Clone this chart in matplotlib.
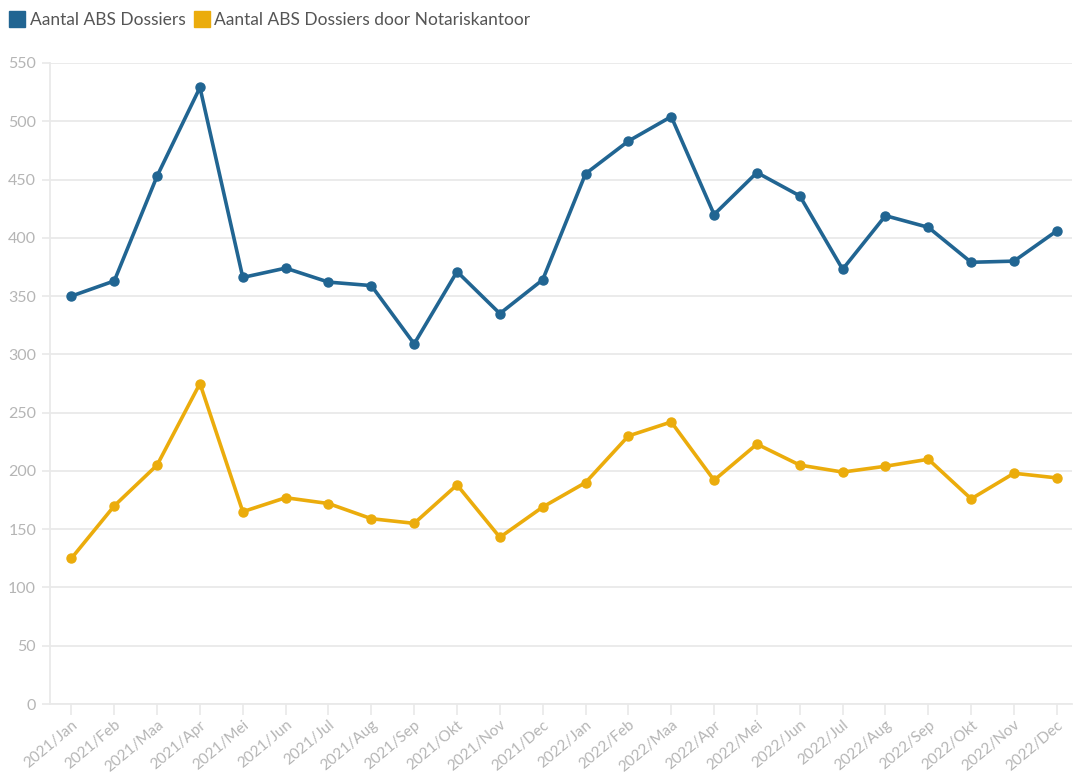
import matplotlib.pyplot as plt
from matplotlib.lines import Line2D

# monthly dossier counts 2021-2022
months = ['Jan', 'Feb', 'Maa', 'Apr', 'Mei', 'Jun', 'Jul', 'Aug', 'Sep', 'Okt', 'Nov', 'Dec']
labels = ['2021/' + m for m in months] + ['2022/' + m for m in months]

abs_dossiers = [350, 363, 453, 529, 366, 374, 362, 359, 309, 371, 335, 364,
                455, 483, 504, 420, 456, 436, 373, 419, 409, 379, 380, 406]
abs_notaris = [125, 170, 205, 275, 165, 177, 172, 159, 155, 188, 143, 169,
               190, 230, 242, 192, 223, 205, 199, 204, 210, 176, 198, 194]

blue = '#216592'
yellow = '#ebac0c'
grid_col = '#e9e9e9'
text_col = '#b5b5b5'

plt.rcParams['font.family'] = ['Lato', 'DejaVu Sans']

fig = plt.figure(figsize=(10.74, 7.75), dpi=100)
ax = fig.add_axes([50 / 1074, 1 - 704 / 775, 1 - 50 / 1074 - 0.002, (704 - 63) / 775])

x = list(range(len(labels)))
ax.plot(x, abs_dossiers, color=blue, lw=2.6, marker='o', ms=6.5, zorder=3)
ax.plot(x, abs_notaris, color=yellow, lw=2.6, marker='o', ms=6.5, zorder=3)

ax.set_ylim(0, 550)
ax.set_xlim(-0.5, 23.35)
ax.set_yticks(range(0, 551, 50))
ax.set_xticks(x)
ax.set_xticklabels(labels, rotation=40, ha='right', rotation_mode='anchor')
ax.grid(axis='y', color=grid_col, lw=1.3)
ax.set_axisbelow(True)

for side in ['top', 'right']:
    ax.spines[side].set_visible(False)
for side in ['left', 'bottom']:
    ax.spines[side].set_color(grid_col)
    ax.spines[side].set_linewidth(1.3)

ax.tick_params(axis='y', colors=text_col, labelsize=11.5, length=6, width=1.2, color=grid_col, pad=4)
ax.tick_params(axis='x', colors=text_col, labelsize=11, length=8, width=1.2, color=grid_col, pad=2)

handles = [Line2D([], [], ls='none', marker='s', ms=11, color=blue),
           Line2D([], [], ls='none', marker='s', ms=11, color=yellow)]
fig.legend(handles, ['Aantal ABS Dossiers', 'Aantal ABS Dossiers door Notariskantoor'],
           loc='upper left', bbox_to_anchor=(-0.004, 1.005), ncol=2, frameon=False,
           handlelength=0.7, handletextpad=0.35, columnspacing=0.6,
           prop={'size': 12.5}, labelcolor='#555555')

fig.savefig('out.png', dpi=100)
